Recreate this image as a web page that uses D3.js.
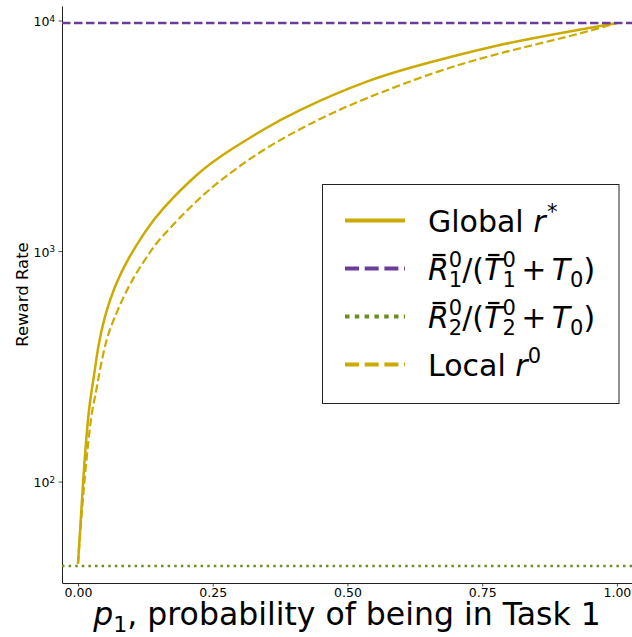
<!DOCTYPE html>
<html>
<head>
<meta charset="utf-8">
<script src="https://cdn.jsdelivr.net/npm/d3@7"></script>
<style>
  body { margin: 0; background: #fff; }
  text { font-family: "DejaVu Sans", sans-serif; fill: #000; }
</style>
</head>
<body>
<div id="chart"></div>
<script>
// values (p1 -> reward rate)
const pGlobal = [0, 0.0093, 0.0191, 0.0284, 0.0377, 0.0501, 0.0686, 0.0933, 0.1243, 0.158, 0.221, 0.282, 0.343, 0.412, 0.536, 0.659, 0.783, 0.907, 1.0];
const rGlobal = [44, 98, 191, 276, 384, 519, 700, 923, 1208, 1528, 2143, 2735, 3350, 4090, 5433, 6637, 7830, 8920, 9750];

const pLocal = [0, 0.0093, 0.0223, 0.0315, 0.0408, 0.0532, 0.0686, 0.0872, 0.1089, 0.1317, 0.158, 0.221, 0.282, 0.343, 0.406, 0.462, 0.536, 0.659, 0.783, 0.907, 1.0];
const rLocal = [44, 85, 173, 233, 305, 411, 519, 650, 805, 973, 1167, 1652, 2173, 2729, 3319, 3864, 4603, 5902, 7200, 8500, 9750];

const rTask1 = 9750;  // R1/(T1+T0)
const rTask2 = 43;    // R2/(T2+T0)

const xTicks = [0, 0.25, 0.5, 0.75, 1.0];
const yTicks = [2, 3, 4]; // exponents of 10

const gold = "#ccaa00", purple = "#6a3d9a", green = "#6b8e23";

const width = 632, height = 637;
const svg = d3.select("#chart").append("svg")
    .attr("width", width)
    .attr("height", height);

const x = d3.scaleLinear().domain([-0.0297, 1.028]).range([62, 632]);
const y = d3.scaleLog().domain([36.3, 11560]).range([583, 6]);

// little mathtext-like helper: italic, sub/sup, bars
function mathText(g, x0, y0, parts, size, anchor, supShift) {
    const grp = g.append("g");
    const ss = supShift || 0.42;
    let cx = 0;
    parts.forEach(p => {
        if (p.gap) { cx += p.gap * size; return; }
        if (p.sup !== undefined || p.sub !== undefined) {
            let w = 0;
            [[p.sup, -ss], [p.sub, 0.22]].forEach(([s, dy]) => {
                if (s === undefined) return;
                const t = grp.append("text")
                    .attr("x", cx).attr("y", dy * size)
                    .style("font-size", (size * 0.7) + "px")
                    .text(s);
                w = Math.max(w, t.node().getComputedTextLength());
            });
            cx += w;
            return;
        }
        const t = grp.append("text")
            .attr("x", cx).attr("y", 0)
            .style("font-size", size + "px")
            .style("font-style", p.i ? "italic" : "normal")
            .text(p.t);
        const w = t.node().getComputedTextLength();
        if (p.bar) {
            grp.append("rect")
                .attr("x", cx + 0.22 * w).attr("y", -0.87 * size)
                .attr("width", 0.62 * w).attr("height", 0.075 * size)
                .attr("fill", "#000");
        }
        cx += w;
    });
    const shift = anchor === "middle" ? -cx / 2 : anchor === "end" ? -cx : 0;
    grp.attr("transform", `translate(${x0 + shift},${y0})`);
    return grp;
}

// axes
const xAxis = svg.append("g")
    .attr("transform", `translate(0,${y.range()[0]})`)
    .call(d3.axisBottom(x).tickValues(xTicks).tickFormat(d3.format(".2f"))
        .tickSize(3.5).tickSizeOuter(0).tickPadding(2));
xAxis.selectAll("text").style("font-size", "12.5px");

const yAxis = svg.append("g")
    .attr("transform", `translate(${x.range()[0]},0)`)
    .call(d3.axisLeft(y).tickValues(yTicks.map(e => Math.pow(10, e))).tickFormat("")
        .tickSize(3.5).tickSizeOuter(0));
[xAxis, yAxis].forEach(a => {
    a.select(".domain").attr("stroke", "#222").attr("stroke-width", 1);
    a.selectAll(".tick line").attr("stroke", "#222").attr("stroke-width", 0.8);
});
yTicks.forEach(e => {
    mathText(svg, 55, y(Math.pow(10, e)) + 5.5, [{t: "10"}, {sup: String(e)}], 12.5, "end", 0.33);
});

svg.append("text")
    .attr("transform", `translate(28,${(y.range()[0] + y.range()[1]) / 2}) rotate(-90)`)
    .attr("text-anchor", "middle")
    .style("font-size", "16.5px")
    .text("Reward Rate");

mathText(svg, (x.range()[0] + x.range()[1]) / 2, 625,
    [{t: "p", i: true}, {sub: "1"}, {t: ","}, {gap: 0.318}, {t: "probability of being in Task 1"}], 31.5, "middle");

// lines
const line = d3.line()
    .x(d => x(d[0]))
    .y(d => y(d[1]))
    .curve(d3.curveNatural);

const plot = svg.append("g");
plot.append("line")
    .attr("x1", x.range()[0]).attr("x2", x.range()[1])
    .attr("y1", y(rTask2)).attr("y2", y(rTask2))
    .attr("stroke", green).attr("stroke-width", 2.5)
    .attr("stroke-dasharray", "2.5,4.1");
plot.append("path")
    .datum(d3.zip(pLocal, rLocal))
    .attr("d", line)
    .attr("fill", "none").attr("stroke", gold).attr("stroke-width", 2.2)
    .attr("stroke-dasharray", "8,3.5");
plot.append("path")
    .datum(d3.zip(pGlobal, rGlobal))
    .attr("d", line)
    .attr("fill", "none").attr("stroke", gold).attr("stroke-width", 2.5);
plot.append("line")
    .attr("x1", x.range()[0]).attr("x2", x.range()[1])
    .attr("y1", y(rTask1)).attr("y2", y(rTask1))
    .attr("stroke", purple).attr("stroke-width", 2.6)
    .attr("stroke-dasharray", "8.5,3.5");

// legend
const legendItems = [
    {color: gold, dash: null,
     parts: [{t: "Global"}, {gap: 0.318}, {t: "r", i: true}, {gap: 0.05}, {sup: "*"}]},
    {color: purple, dash: "14,5.7",
     parts: [{t: "R", i: true, bar: true}, {sup: "0", sub: "1"}, {t: "/("}, {t: "T", i: true, bar: true}, {sup: "0", sub: "1"},
             {gap: 0.18}, {t: "+"}, {gap: 0.18}, {t: "T", i: true}, {sub: "0"}, {t: ")"}]},
    {color: green, dash: "4.5,5.3",
     parts: [{t: "R", i: true, bar: true}, {sup: "0", sub: "2"}, {t: "/("}, {t: "T", i: true, bar: true}, {sup: "0", sub: "2"},
             {gap: 0.18}, {t: "+"}, {gap: 0.18}, {t: "T", i: true}, {sub: "0"}, {t: ")"}]},
    {color: gold, dash: "14,5.7",
     parts: [{t: "Local"}, {gap: 0.318}, {t: "r", i: true}, {sup: "0"}]}
];

const legend = svg.append("g");
legend.append("rect")
    .attr("x", 322.5).attr("y", 184.5)
    .attr("width", 296.5).attr("height", 219)
    .attr("fill", "#fff").attr("stroke", "#222").attr("stroke-width", 1);
legendItems.forEach((d, i) => {
    const ry = 220.5 + i * 48;
    legend.append("line")
        .attr("x1", 345).attr("x2", 405)
        .attr("y1", ry).attr("y2", ry)
        .attr("stroke", d.color).attr("stroke-width", 4)
        .attr("stroke-dasharray", d.dash);
    mathText(legend, 428, ry + 11.5, d.parts, 30, "start");
});
</script>
</body>
</html>
